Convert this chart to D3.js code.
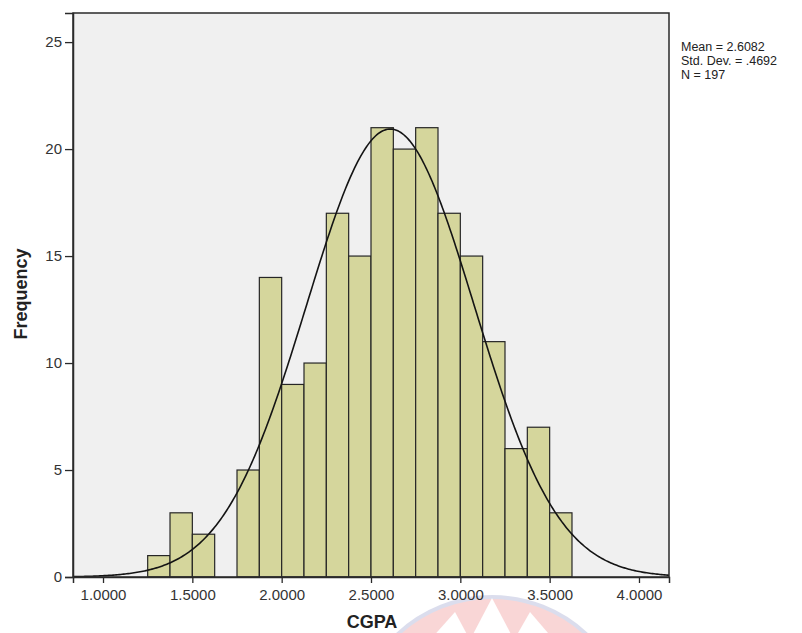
<!DOCTYPE html>
<html>
<head>
<meta charset="utf-8">
<script src="https://cdnjs.cloudflare.com/ajax/libs/d3/7.8.5/d3.min.js"></script>
<style>
  body { margin: 0; background: #fff; }
  svg { display: block; font-family: "Liberation Sans", Arial, sans-serif; }
</style>
</head>
<body>
<svg width="802" height="633"></svg>
<script>
(function(){
  // histogram bins (lower edge) and counts
  var binStarts = [1.250, 1.375, 1.500, 1.625, 1.750, 1.875, 2.000, 2.125, 2.250, 2.375,
                   2.500, 2.625, 2.750, 2.875, 3.000, 3.125, 3.250, 3.375, 3.500];
  var counts = [1, 3, 2, 0, 5, 14, 9, 10, 17, 15, 21, 20, 21, 17, 15, 11, 6, 7, 3];
  var binWidth = 0.125;
  var xTicks = [1.0, 1.5, 2.0, 2.5, 3.0, 3.5, 4.0];
  var yTicks = [0, 5, 10, 15, 20, 25];
  var stats = { mean: 2.6082, sd: 0.4692, n: 197 };
  var legendLines = ["Mean = 2.6082", "Std. Dev. = .4692", "N = 197"];

  var svg = d3.select('svg');
  var left = 73, right = 669, top = 13, bottom = 577;

  var x = d3.scaleLinear().domain([0.832, 4.168]).range([left, right]);
  var y = d3.scaleLinear().domain([0, 26.36]).range([bottom, top]);

  // faint watermark seal at bottom
  var wm = svg.append("g").attr("opacity", 0.35);
  wm.append("circle").attr("cx", 492).attr("cy", 735).attr("r", 138)
    .style("fill", "#f08c8c").style("stroke", "#9aa0cc").style("stroke-width", 4);
  [[430, 640, 455, 612, 470, 640], [470, 640, 492, 598, 514, 640], [514, 640, 530, 612, 554, 640]]
    .forEach(function(p){
      wm.append("polygon").attr("points", p[0]+","+p[1]+" "+p[2]+","+p[3]+" "+p[4]+","+p[5])
        .style("fill", "#fff");
    });

  // plot background
  svg.append("rect")
    .attr("x", left).attr("y", top)
    .attr("width", right - left).attr("height", bottom - top)
    .style("fill", "#f0f0f0");

  // bars
  svg.selectAll("rect.bar").data(counts).enter().append("rect")
    .attr("class", "bar")
    .attr("x", function(d, i){ return x(binStarts[i]); })
    .attr("width", function(d, i){ return x(binStarts[i] + binWidth) - x(binStarts[i]); })
    .attr("y", function(d){ return y(d); })
    .attr("height", function(d){ return y(0) - y(d); })
    .style("fill", "#d5d69c")
    .style("stroke", "#262626")
    .style("stroke-width", 1.2)
    .style("display", function(d){ return d > 0 ? null : "none"; });

  // normal curve
  var k = stats.n * binWidth / (stats.sd * Math.sqrt(2 * Math.PI));
  var pts = d3.range(0, 401).map(function(i){
    var v = 0.832 + (4.168 - 0.832) * i / 400;
    var z = (v - stats.mean) / stats.sd;
    return [v, k * Math.exp(-0.5 * z * z)];
  });
  svg.append("path").datum(pts)
    .attr("d", d3.line().x(function(d){ return x(d[0]); }).y(function(d){ return y(d[1]); }))
    .style("fill", "none").style("stroke", "#141414").style("stroke-width", 1.6);

  // frame
  svg.append("rect")
    .attr("x", left).attr("y", top)
    .attr("width", right - left).attr("height", bottom - top)
    .style("fill", "none").style("stroke", "#2a2a2a").style("stroke-width", 1.5);

  // axes
  var xAxis = svg.append("g").attr("transform", "translate(0," + bottom + ")")
    .call(d3.axisBottom(x).tickValues(xTicks).tickFormat(d3.format(".4f")).tickSize(6).tickPadding(6));
  var yAxis = svg.append("g").attr("transform", "translate(" + left + ",0)")
    .call(d3.axisLeft(y).tickValues(yTicks).tickSize(8).tickPadding(3));
  [xAxis, yAxis].forEach(function(a){
    a.select(".domain").style("stroke", "#2a2a2a").style("stroke-width", 1.5);
    a.selectAll(".tick line").style("stroke", "#2a2a2a").style("stroke-width", 1.3);
    a.selectAll(".tick text").style("font-size", "15px").style("fill", "#333")
      .style("font-family", '"Liberation Sans", Arial, sans-serif');
  });

  // axis titles
  svg.append("text").attr("x", 372).attr("y", 628)
    .attr("text-anchor", "middle").style("font-size", "18px").style("font-weight", "bold")
    .style("fill", "#222").text("CGPA");
  svg.append("text").attr("transform", "translate(27,294) rotate(-90)")
    .attr("text-anchor", "middle").style("font-size", "18px").style("font-weight", "bold")
    .style("fill", "#222").text("Frequency");

  // stats legend
  svg.selectAll("text.stat").data(legendLines).enter().append("text")
    .attr("class", "stat")
    .attr("x", 681)
    .attr("y", function(d, i){ return 51 + i * 14; })
    .style("font-size", "12.5px").style("fill", "#222")
    .text(function(d){ return d; });
})();
</script>
</body>
</html>
